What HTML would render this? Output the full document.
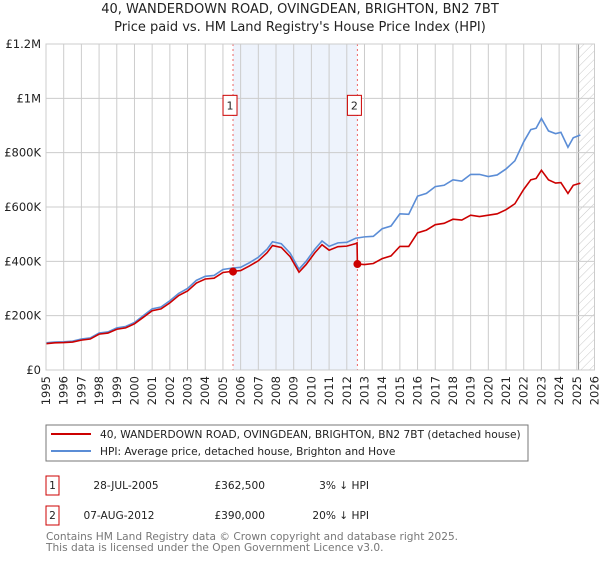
<!DOCTYPE html>
<html><head><meta charset="utf-8"><style>
body{margin:0;background:#fff;font-family:"Liberation Sans","DejaVu Sans",sans-serif;}
svg text{font-family:"DejaVu Sans","Liberation Sans",sans-serif;}
</style></head><body>
<svg id="chart" width="600" height="560" xmlns="http://www.w3.org/2000/svg">
<defs><pattern id="hatch" width="6" height="6" patternUnits="userSpaceOnUse" patternTransform="rotate(45)"><line x1="0" y1="0" x2="0" y2="6" stroke="#bbb" stroke-width="0.8"/></pattern></defs>
<text x="300" y="13" text-anchor="middle" font-size="13" fill="#222">40, WANDERDOWN ROAD, OVINGDEAN, BRIGHTON, BN2 7BT</text>
<text x="300" y="31" text-anchor="middle" font-size="13" fill="#222">Price paid vs. HM Land Registry's House Price Index (HPI)</text>
<g id="plot"></g>
<g>
<rect x="46" y="425" width="482" height="36" fill="#fff" stroke="#777"/>
<line x1="51" y1="434" x2="91" y2="434" stroke="#cc0000" stroke-width="2"/>
<text x="100" y="438" font-size="10.6" fill="#222">40, WANDERDOWN ROAD, OVINGDEAN, BRIGHTON, BN2 7BT (detached house)</text>
<line x1="51" y1="451" x2="91" y2="451" stroke="#5b8dd6" stroke-width="2"/>
<text x="100" y="455" font-size="10.6" fill="#222">HPI: Average price, detached house, Brighton and Hove</text>
</g>
<g font-size="10.6" fill="#222">
<rect x="46" y="476" width="13" height="19" fill="#fff" stroke="#cc0000"/>
<text x="52.5" y="489" text-anchor="middle">1</text>
<text x="126" y="489" text-anchor="middle">28-JUL-2005</text>
<text x="265" y="489" text-anchor="end">£362,500</text>
<text x="369" y="489" text-anchor="end">3% ↓ HPI</text>
</g>
<g font-size="10.6" fill="#222">
<rect x="46" y="506" width="13" height="19" fill="#fff" stroke="#cc0000"/>
<text x="52.5" y="519" text-anchor="middle">2</text>
<text x="119" y="519" text-anchor="middle">07-AUG-2012</text>
<text x="265" y="519" text-anchor="end">£390,000</text>
<text x="369" y="519" text-anchor="end">20% ↓ HPI</text>
</g>
<text x="46" y="540" font-size="10.6" fill="#777">Contains HM Land Registry data © Crown copyright and database right 2025.</text>
<text x="46" y="551" font-size="10.6" fill="#777">This data is licensed under the Open Government Licence v3.0.</text>
</svg>
<script>
const hpiYears=[1995.0,1995.5,1996.0,1996.5,1997.0,1997.5,1998.0,1998.5,1999.0,1999.5,2000.0,2000.5,2001.0,2001.5,2002.0,2002.5,2003.0,2003.5,2004.0,2004.5,2005.0,2005.5,2006.0,2006.5,2007.0,2007.5,2007.8,2008.3,2008.8,2009.3,2009.7,2010.2,2010.6,2011.0,2011.5,2012.0,2012.5,2013.0,2013.5,2014.0,2014.5,2015.0,2015.5,2016.0,2016.5,2017.0,2017.5,2018.0,2018.5,2019.0,2019.5,2020.0,2020.5,2021.0,2021.5,2022.0,2022.4,2022.7,2023.0,2023.4,2023.8,2024.1,2024.5,2024.8,2025.2];
const hpiValues=[100,103,104,106,114,118,136,140,155,160,175,200,225,232,255,282,300,330,345,348,370,375,378,395,415,445,472,465,430,371,400,445,475,455,468,470,485,490,492,520,530,575,573,640,650,675,680,700,695,720,720,712,718,740,770,840,885,890,926,880,870,875,820,855,865];
const priceYears=[1995.0,1995.5,1996.0,1996.5,1997.0,1997.5,1998.0,1998.5,1999.0,1999.5,2000.0,2000.5,2001.0,2001.5,2002.0,2002.5,2003.0,2003.5,2004.0,2004.5,2005.0,2005.5,2006.0,2006.5,2007.0,2007.5,2007.8,2008.3,2008.8,2009.3,2009.7,2010.2,2010.6,2011.0,2011.5,2012.0,2012.5,2012.58,2012.6,2013.0,2013.5,2014.0,2014.5,2015.0,2015.5,2016.0,2016.5,2017.0,2017.5,2018.0,2018.5,2019.0,2019.5,2020.0,2020.5,2021.0,2021.5,2022.0,2022.4,2022.7,2023.0,2023.4,2023.8,2024.1,2024.5,2024.8,2025.2];
const priceValues=[97,100,101,103,110,114,132,136,150,155,170,194,218,225,247,274,291,320,335,338,359,363,366,383,402,432,458,451,417,360,388,432,461,441,454,456,465,468,390,388,392,410,420,455,455,505,515,535,540,555,552,570,565,570,575,590,612,665,700,705,735,700,688,690,650,680,688];
const saleYears=[2005.57,2012.6];
const saleValues=[362.5,390];
const saleLabels=["1","2"];
const yTicks=[0,200,400,600,800,1000,1200];
const yTickLabels=["£0","£200K","£400K","£600K","£800K","£1M","£1.2M"];
const xTicks=[1995,1996,1997,1998,1999,2000,2001,2002,2003,2004,2005,2006,2007,2008,2009,2010,2011,2012,2013,2014,2015,2016,2017,2018,2019,2020,2021,2022,2023,2024,2025,2026];

const X0=46,X1=594.5,Y0=370,Y1=44;
function xs(t){return X0+(t-1995)/(2026-1995)*(X1-X0);}
function ys(v){return Y0-v/1200*(Y0-Y1);}
const NS="http://www.w3.org/2000/svg";
const g=document.getElementById('plot');
function mk(tag,attrs,parent){const e=document.createElementNS(NS,tag);for(const k in attrs)e.setAttribute(k,attrs[k]);(parent||g).appendChild(e);return e;}

const shade=mk('rect',{x:xs(saleYears[0]),y:Y1,width:xs(saleYears[1])-xs(saleYears[0]),height:Y0-Y1,fill:'#eef3fc'});


const hat=mk('rect',{x:xs(2025.1),y:Y1,width:X1-xs(2025.1),height:Y0-Y1,fill:'url(#hatch)'});


mk('line',{x1:xs(2025.1),y1:Y1,x2:xs(2025.1),y2:Y0,stroke:'#999','stroke-width':1});

xTicks.forEach(t=>{
  const l=mk('line',{x1:xs(t),y1:Y1,x2:xs(t),y2:Y0,stroke:'#cccccc','stroke-width':1});
  
  
  const tx=mk('text',{x:0,y:0,transform:`translate(${xs(t)+4},${Y0+6}) rotate(-90)`,'text-anchor':'end','font-size':11.5,fill:'#222'});
  tx.textContent=t;
  
  
});
yTicks.forEach((v,i)=>{
  const l=mk('line',{x1:X0,y1:ys(v),x2:X1,y2:ys(v),stroke:'#cccccc','stroke-width':1});
  
  
  const tx=mk('text',{x:X0-5,y:ys(v)+4,'text-anchor':'end','font-size':11.5,fill:'#222'});
  tx.textContent=yTickLabels[i];
  
  
});

saleYears.forEach((t,i)=>{
  const l=mk('line',{x1:xs(t),y1:Y1,x2:xs(t),y2:Y0,stroke:'#ee6666','stroke-width':1,'stroke-dasharray':'2,3'});
  
  
  const b=mk('rect',{x:xs(t)-10,y:ys(1000)-3,width:14,height:20,fill:'#fff',stroke:'#cc0000'});
  
  
  const tx=mk('text',{x:xs(t)-3,y:ys(1000)+11,'text-anchor':'middle','font-size':11,fill:'#222'});
  tx.textContent=saleLabels[i];
  
  
});

const hp=mk('polyline',{points:hpiYears.map((t,i)=>xs(t)+','+ys(hpiValues[i])).join(' '),fill:'none',stroke:'#5b8dd6','stroke-width':1.6});


const pp=mk('polyline',{points:priceYears.map((t,i)=>xs(t)+','+ys(priceValues[i])).join(' '),fill:'none',stroke:'#cc0000','stroke-width':1.6});


saleYears.forEach((t,i)=>{
  const c=mk('circle',{cx:xs(t),cy:ys(saleValues[i]),r:4,fill:'#cc0000'});
  
  
});
mk('rect',{x:X0,y:Y1,width:X1-X0,height:Y0-Y1,fill:'none',stroke:'#cccccc'});
</script>
</body></html>
